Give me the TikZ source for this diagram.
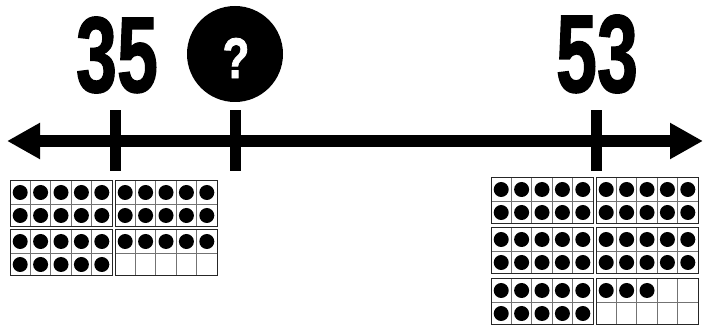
\documentclass[tikz,border=0pt]{standalone}
\usepackage{fontspec}
\setmainfont{Liberation Sans}
\newfontfamily\heavyfont[FakeBold=1.5]{Liberation Sans Bold}
\usetikzlibrary{arrows.meta}
\tikzset{
  numline/.style={line width=12pt,{Triangle[length=33pt,width=34pt]}-{Triangle[length=33pt,width=34pt]}},
  tickbar/.style={rectangle,fill=black,minimum width=11pt,minimum height=61pt,inner sep=0pt},
  bignum/.style={inner sep=0pt,font=\heavyfont},
  qcircle/.style={circle,fill=black,minimum size=96pt,inner sep=0pt},
  gridline/.style={draw=black!55,line width=0.8pt},
  frameborder/.style={draw=black!85,line width=1pt},
  counter/.style={fill=black}
}
\newcommand{\tenfr}[3]{%
  \begin{scope}[shift={(#1,#2)}]
    \foreach \c in {1,...,4} {\draw[gridline] (\c*20.4,0) -- (\c*20.4,46);}
    \draw[gridline] (0,23) -- (102,23);
    \foreach \k in {1,...,#3} {
      \pgfmathtruncatemacro{\col}{mod(\k-1,5)}
      \pgfmathtruncatemacro{\row}{(\k-1)/5}
      \fill[counter] (\col*20.4+10.2,\row*23+11.5) circle[radius=7.5pt];
    }
    \draw[frameborder] (0,0) rectangle (102,46);
  \end{scope}}
\begin{document}
\begin{tikzpicture}[x=1pt,y=-1pt]
\useasboundingbox (0,0) rectangle (704,328);
% number line
\coordinate (L) at (7,141);
\coordinate (R) at (703,141);
\draw[numline] (L) -- (R);
% ticks
\node[tickbar] (tick35) at (115,140.5) {};
\node[tickbar] (tickq) at (235,140.5) {};
\node[tickbar] (tick53) at (596,140.5) {};
% labels
\node[bignum] (n35) at (117,55) {\resizebox{82pt}{75pt}{35}};
\node[bignum] (n53) at (597,54) {\resizebox{82pt}{77pt}{53}};
\node[qcircle] (qc) at (235,54) {};
\node[bignum,text=white] (q) at (236,58) {\resizebox{27pt}{40pt}{?}};
% ten frames left (35)
\tenfr{10}{181}{10}
\tenfr{115}{181}{10}
\tenfr{10}{230}{10}
\tenfr{115}{230}{5}
% ten frames right (53)
\tenfr{491}{178}{10}
\tenfr{596}{178}{10}
\tenfr{491}{228}{10}
\tenfr{596}{228}{10}
\tenfr{491}{279}{10}
\tenfr{596}{279}{3}
\end{tikzpicture}
\end{document}
